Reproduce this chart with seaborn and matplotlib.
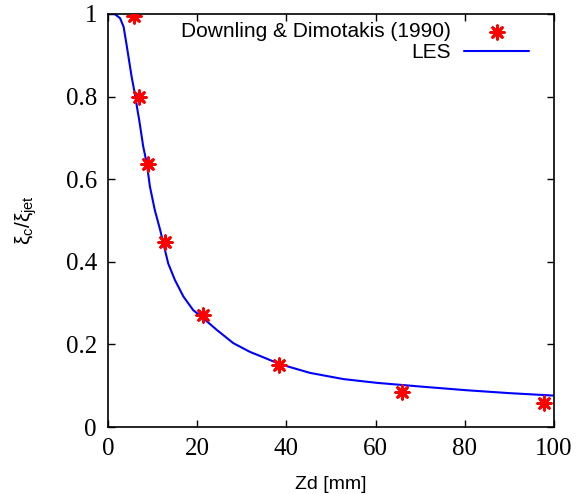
import matplotlib
matplotlib.use("Agg")
import matplotlib.pyplot as plt
import seaborn as sns
import pandas as pd

# Centreline mixture fraction decay: experiment vs LES
exp_zd = [5.8, 7.0, 8.9, 12.8, 21.4, 38.3, 66.0, 97.8]
exp_xi = [0.996, 0.80, 0.637, 0.449, 0.271, 0.150, 0.085, 0.059]

les_zd = [0.0, 1.5, 2.7, 3.5, 4.1, 4.7, 5.3, 6.0, 6.6, 7.0, 7.9, 8.7, 9.4,
          10.5, 11.7, 12.4, 13.5, 15.0, 16.9, 19.1, 21.4, 24.4, 28.1, 31.8,
          34.1, 38.6, 45.3, 52.8, 60.2, 70.0, 80.4, 90.0, 100.0]
les_xi = [1.0, 1.0, 0.990, 0.969, 0.930, 0.889, 0.848, 0.808, 0.768, 0.743,
          0.679, 0.638, 0.582, 0.525, 0.477, 0.445, 0.396, 0.356, 0.316,
          0.283, 0.263, 0.235, 0.203, 0.182, 0.172, 0.152, 0.131, 0.116,
          0.107, 0.098, 0.089, 0.082, 0.076]

x_ticks = [0, 20, 40, 60, 80, 100]
y_ticks = [0, 0.2, 0.4, 0.6, 0.8, 1.0]
y_tick_labels = ["0", "0.2", "0.4", "0.6", "0.8", "1"]

exp_df = pd.DataFrame({"zd": exp_zd, "xi": exp_xi})
les_df = pd.DataFrame({"zd": les_zd, "xi": les_xi})

sns.set_theme(style="ticks")
plt.rcParams["font.family"] = ["Liberation Sans", "DejaVu Sans"]
plt.rcParams["text.color"] = "black"
plt.rcParams["axes.labelcolor"] = "black"
plt.rcParams["mathtext.fontset"] = "custom"
plt.rcParams["mathtext.rm"] = "Liberation Sans"
plt.rcParams["mathtext.it"] = "Liberation Sans"

fig = plt.figure(figsize=(5.79, 4.94), dpi=100)
ax = fig.add_axes([108 / 579, 1 - 427 / 494, 446 / 579, 413 / 494])

sns.scatterplot(data=exp_df, x="zd", y="xi", ax=ax, marker=(8, 2, 0),
                s=95, color="#ff0000", linewidth=2.0, edgecolor="#ff0000",
                label="Downling & Dimotakis (1990)", zorder=3)
sns.lineplot(data=les_df, x="zd", y="xi", ax=ax, sort=False, estimator=None,
             color="#0000ff", linewidth=1.5, label="LES", zorder=2)

ax.set_xlim(0, 100)
ax.set_ylim(0, 1)
ax.set_xticks(x_ticks)
ax.set_yticks(y_ticks)
ax.set_yticklabels(y_tick_labels)
ax.tick_params(direction="in", length=5, width=1, top=True, right=True,
               colors="black", labelsize=18, pad=8)
for lab in ax.get_xticklabels() + ax.get_yticklabels():
    lab.set_fontfamily("Liberation Serif")
for sp in ax.spines.values():
    sp.set_linewidth(1.2)
    sp.set_color("black")

ax.set_xlabel("Zd [mm]", fontsize=14, color="black")
ax.xaxis.set_label_coords(0.5, -0.118)
ax.set_ylabel(r"$\xi_c/\xi_{jet}$", fontsize=15, color="black")
ax.yaxis.set_label_coords(-0.155, 0.5)

leg = ax.legend(loc="upper right", bbox_to_anchor=(529 / 579, 1 - 22 / 494),
                bbox_transform=fig.transFigure, frameon=False,
                markerfirst=False, fontsize=15, handlelength=3.1,
                handletextpad=0.63, labelspacing=0.1, borderaxespad=0,
                borderpad=0)
for t in leg.get_texts():
    t.set_ha("right")
    t.set_color("black")
leg._legend_box.align = "right"

fig.savefig("out.png", dpi=100)
